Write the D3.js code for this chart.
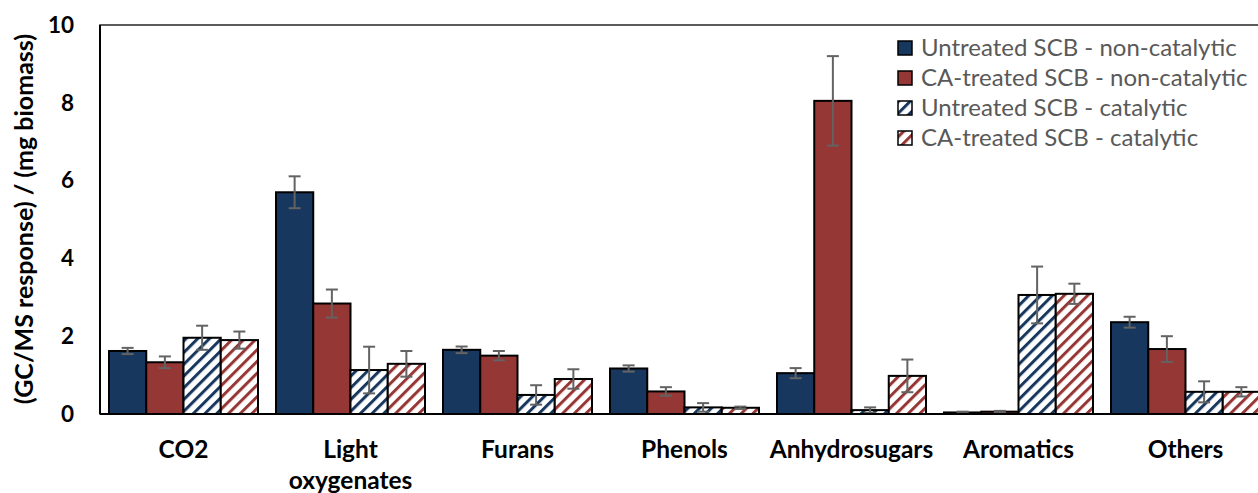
<!DOCTYPE html>
<html>
<head>
<meta charset="utf-8">
<script src="https://cdn.jsdelivr.net/npm/d3@7"></script>
<style>
  html, body { margin: 0; padding: 0; background: #fff; }
  svg { display: block; }
</style>
</head>
<body>
<svg id="chart" width="1258" height="493"></svg>
<script>
// ---- data ----
const categories = ["CO2", "Light oxygenates", "Furans", "Phenols", "Anhydrosugars", "Aromatics", "Others"];
const seriesNames = [
  "Untreated SCB - non-catalytic",
  "CA-treated SCB - non-catalytic",
  "Untreated SCB - catalytic",
  "CA-treated SCB - catalytic"
];
const untreatedNonCat    = [1.62, 5.70, 1.65, 1.17, 1.05, 0.04, 2.36];
const untreatedNonCatErr = [0.08, 0.41, 0.085, 0.08, 0.13, 0.02, 0.14];
const caNonCat           = [1.33, 2.84, 1.50, 0.58, 8.05, 0.06, 1.67];
const caNonCatErr        = [0.15, 0.36, 0.12, 0.11, 1.15, 0.02, 0.33];
const untreatedCat       = [1.96, 1.13, 0.49, 0.17, 0.10, 3.06, 0.57];
const untreatedCatErr    = [0.31, 0.60, 0.25, 0.11, 0.07, 0.73, 0.27];
const caCat              = [1.90, 1.29, 0.90, 0.16, 0.98, 3.09, 0.57];
const caCatErr           = [0.22, 0.33, 0.25, 0.03, 0.42, 0.26, 0.12];
const yTicks = [0, 2, 4, 6, 8, 10];
const yTitle = "(GC/MS response) / (mg biomass)";

const seriesValues = [untreatedNonCat, caNonCat, untreatedCat, caCat];
const seriesErrors = [untreatedNonCatErr, caNonCatErr, untreatedCatErr, caCatErr];

// ---- styles ----
const blue = "#17375E", red = "#953735";
const fills = [blue, red, "url(#hatchBlue)", "url(#hatchRed)"];
const font = "Lato, 'Open Sans', sans-serif";

const svg = d3.select("#chart");
const pLeft = 100, pTop = 25, pBottom = 414, pRight = 1269;

const defs = svg.append("defs");
[["hatchBlue", blue], ["hatchRed", red]].forEach(([id, c]) => {
  const p = defs.append("pattern")
    .attr("id", id).attr("patternUnits", "userSpaceOnUse")
    .attr("width", 8.3).attr("height", 8.3)
    .attr("patternTransform", "rotate(45)");
  p.append("rect").attr("width", 8.3).attr("height", 8.3).attr("fill", "#fff");
  p.append("rect").attr("x", 0).attr("width", 3).attr("height", 8.3).attr("fill", c);
});

const y = d3.scaleLinear().domain([0, 10]).range([pBottom, pTop]);
const x0 = d3.scaleBand().domain(categories).range([pLeft, pRight]).padding(0);
const x1 = d3.scaleBand().domain(d3.range(4)).range([9, x0.bandwidth() - 9]).padding(0);

// frame
svg.append("rect")
  .attr("x", pLeft).attr("y", pTop).attr("width", pRight - pLeft).attr("height", pBottom - pTop)
  .attr("fill", "none").attr("stroke", "#262626").attr("stroke-width", 1.5);

// bars
const groups = svg.append("g").selectAll("g").data(categories).join("g")
  .attr("transform", d => `translate(${x0(d)},0)`);

groups.each(function(cat, ci) {
  const g = d3.select(this);
  const rows = d3.range(4).map(si => ({ si, v: seriesValues[si][ci], e: seriesErrors[si][ci] }));
  g.selectAll("rect.bar").data(rows).join("rect")
    .attr("class", "bar")
    .attr("x", d => x1(d.si))
    .attr("y", d => y(d.v))
    .attr("width", x1.bandwidth())
    .attr("height", d => y(0) - y(d.v))
    .attr("fill", d => fills[d.si])
    .attr("stroke", "#000").attr("stroke-width", 2);
  const eb = g.selectAll("g.err").data(rows).join("g").attr("class", "err")
    .attr("stroke", "#636363").attr("stroke-width", 2);
  const cx = d => x1(d.si) + x1.bandwidth() / 2;
  eb.append("line")
    .attr("x1", cx).attr("x2", cx)
    .attr("y1", d => y(d.v + d.e)).attr("y2", d => y(Math.max(0, d.v - d.e)));
  eb.append("line")
    .attr("x1", d => cx(d) - 6).attr("x2", d => cx(d) + 6)
    .attr("y1", d => y(d.v + d.e)).attr("y2", d => y(d.v + d.e));
  eb.append("line")
    .attr("x1", d => cx(d) - 6).attr("x2", d => cx(d) + 6)
    .attr("y1", d => y(Math.max(0, d.v - d.e))).attr("y2", d => y(Math.max(0, d.v - d.e)));
});

// axes lines
svg.append("line").attr("x1", pLeft).attr("x2", pRight).attr("y1", pBottom).attr("y2", pBottom)
  .attr("stroke", "#000").attr("stroke-width", 2);
svg.append("line").attr("x1", pLeft).attr("x2", pLeft).attr("y1", pTop).attr("y2", pBottom)
  .attr("stroke", "#000").attr("stroke-width", 2);

// y axis
const yAxis = svg.append("g").attr("transform", `translate(${pLeft},0)`)
  .call(d3.axisLeft(y).tickValues(yTicks).tickSize(0).tickPadding(26).tickFormat(d3.format("d")));
yAxis.select(".domain").remove();
yAxis.selectAll("text").attr("font-family", font).attr("font-weight", "bold")
  .attr("font-size", 22.5).attr("fill", "#000");

// x axis
const xAxis = svg.append("g").attr("transform", `translate(0,${pBottom})`)
  .call(d3.axisBottom(x0).tickSize(0).tickPadding(0));
xAxis.select(".domain").remove();
xAxis.selectAll("text").each(function(d) {
  const t = d3.select(this);
  const words = d.split(" ");
  t.text(null).attr("y", 0).attr("dy", null)
    .attr("font-family", font).attr("font-weight", "bold").attr("font-size", 24.5).attr("fill", "#000");
  words.forEach((w, i) => {
    t.append("tspan").attr("x", 0).attr("y", 44 + i * 31).text(w);
  });
});

// y title
svg.append("text")
  .attr("transform", `translate(33,219) rotate(-90)`)
  .attr("text-anchor", "middle")
  .attr("font-family", font).attr("font-weight", "bold").attr("font-size", 25).attr("fill", "#000")
  .text(yTitle);

// legend
const leg = svg.append("g");
seriesNames.forEach((name, i) => {
  const cy = 48 + i * 30;
  leg.append("rect").attr("x", 898).attr("y", cy - 7).attr("width", 14).attr("height", 14)
    .attr("fill", fills[i]).attr("stroke", "#000").attr("stroke-width", 1.5);
  leg.append("text").attr("x", 921).attr("y", cy + 8)
    .attr("font-family", font).attr("font-size", 24).attr("fill", "#595959")
    .text(name);
});
</script>
</body>
</html>
